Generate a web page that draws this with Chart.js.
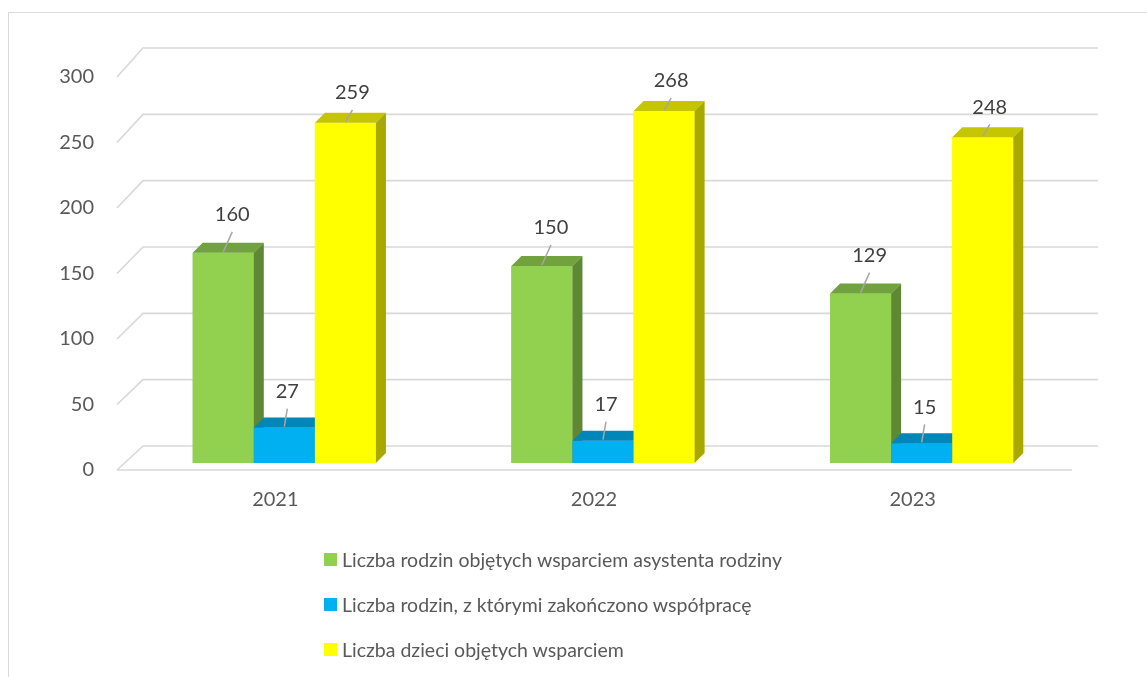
<!DOCTYPE html>
<html lang="pl">
<head>
<meta charset="utf-8">
<title>Asystent rodziny 2021-2023</title>
<script src="https://cdn.jsdelivr.net/npm/chart.js@4.4.0/dist/chart.umd.min.js"></script>
<style>
  html, body { margin: 0; padding: 0; background: #fff; overflow: hidden; }
  body { position: relative; width: 1147px; height: 677px; font-family: Lato, "Noto Sans", sans-serif; }
  .frame { position: absolute; left: 8px; top: 12px; width: 1400px; height: 900px; border: 1.5px solid #d9d9d9; }
  #chart { position: absolute; left: 0; top: 0; }
  .legend { position: absolute; left: 324px; top: 537px; margin: 0; padding: 0; list-style: none; }
  .legend li { display: flex; align-items: center; height: 45px; font-size: 19.5px; color: #595959; white-space: nowrap; }
  .legend .box { display: inline-block; width: 13px; height: 13px; margin-right: 5px; }
</style>
</head>
<body>
<div class="frame"></div>
<canvas id="chart" width="1147" height="677"></canvas>
<ul class="legend" id="legend"></ul>
<script>
  const categories = ["2021", "2022", "2023"];
  const seriesNames = [
    "Liczba rodzin objętych wsparciem asystenta rodziny",
    "Liczba rodzin, z którymi zakończono współpracę",
    "Liczba dzieci objętych wsparciem",
  ];
  const familiesSupported = [160, 150, 129];
  const familiesEnded = [27, 17, 15];
  const childrenSupported = [259, 268, 248];
  const yTicks = [0, 50, 100, 150, 200, 250, 300];

  const seriesStyle = [
    { front: "#92D050", top: "#72A23E", side: "#5F8834", labelDx: 9, labelLift: 38 },
    { front: "#00B0F0", top: "#0087B8", side: "#00719C", labelDx: 3, labelLift: 36 },
    { front: "#FFFF00", top: "#C6C600", side: "#A8A800", labelDx: 7, labelLift: 30 },
  ];
  const seriesValues = [familiesSupported, familiesEnded, childrenSupported];

  const BAR_DEPTH = 10;
  const GRID_COLOR = "#d9d9d9";
  const FONT = "20px Lato, 'Noto Sans', sans-serif";

  // legend below the plot
  const legendEl = document.getElementById("legend");
  seriesNames.forEach((name, i) => {
    const li = document.createElement("li");
    li.innerHTML = '<span class="box" style="background:' + seriesStyle[i].front + '"></span>';
    li.appendChild(document.createTextNode(name));
    legendEl.appendChild(li);
  });

  // back wall / floor front planes relative to the bar front plane
  const planeY = (area, y, plane) => {
    const frac = (area.bottom - y) / (area.bottom - area.top);
    if (plane === "back") return y - 17 - 4 * frac;
    return y + 7 + 1 * frac;
  };

  const drawBox = (ctx, bar, style) => {
    const d = BAR_DEPTH;
    const left = bar.x - bar.width / 2;
    const right = bar.x + bar.width / 2;
    const top = bar.y;
    const bottom = bar.base;

    ctx.fillStyle = style.front;
    ctx.fillRect(left, top, right - left, bottom - top);

    ctx.fillStyle = style.top;
    ctx.beginPath();
    ctx.moveTo(left, top);
    ctx.lineTo(right, top);
    ctx.lineTo(right + d, top - d);
    ctx.lineTo(left + d, top - d);
    ctx.closePath();
    ctx.fill();

    ctx.fillStyle = style.side;
    ctx.beginPath();
    ctx.moveTo(right, top);
    ctx.lineTo(right + d, top - d);
    ctx.lineTo(right + d, bottom - d);
    ctx.lineTo(right, bottom);
    ctx.closePath();
    ctx.fill();
  };

  const box3d = {
    id: "box3d",
    beforeDatasetsDraw(chart) {
      const { ctx, chartArea: area, scales } = chart;
      const yScale = scales.y;
      const xScale = scales.x;
      ctx.save();
      ctx.strokeStyle = GRID_COLOR;
      ctx.lineWidth = 1.7;
      ctx.font = FONT;
      yTicks.forEach((v) => {
        const y = yScale.getPixelForValue(v);
        const by = planeY(area, y, "back");
        const fy = planeY(area, y, "front");
        ctx.beginPath();
        ctx.moveTo(area.left - 8, fy);
        ctx.lineTo(area.left + 18, by);
        ctx.lineTo(area.right + 17, by);
        if (v === 0) {
          ctx.moveTo(area.left - 8, fy);
          ctx.lineTo(area.right - 9, fy);
        }
        ctx.stroke();

        ctx.fillStyle = "#595959";
        ctx.textAlign = "right";
        ctx.textBaseline = "middle";
        ctx.fillText(String(v), 94, fy);
      });

      ctx.fillStyle = "#595959";
      ctx.textAlign = "center";
      ctx.textBaseline = "middle";
      categories.forEach((label, i) => {
        ctx.fillText(label, xScale.getPixelForValue(i) - 9, 500);
      });
      ctx.restore();
    },
    afterDatasetsDraw(chart) {
      const { ctx } = chart;
      ctx.save();
      // Chart.js paints the last dataset first; repaint the boxes left to right
      chart.data.datasets.forEach((ds, di) => {
        chart.getDatasetMeta(di).data.forEach((bar) => drawBox(ctx, bar, seriesStyle[di]));
      });

      ctx.font = FONT;
      ctx.textAlign = "center";
      ctx.textBaseline = "middle";
      chart.data.datasets.forEach((ds, di) => {
        const style = seriesStyle[di];
        chart.getDatasetMeta(di).data.forEach((bar, i) => {
          const lx = bar.x + style.labelDx;
          const ly = bar.y - style.labelLift;
          ctx.strokeStyle = "#a6a6a6";
          ctx.lineWidth = 1.5;
          ctx.beginPath();
          ctx.moveTo(bar.x, bar.y - 1);
          ctx.lineTo(lx, ly + 17);
          ctx.stroke();
          ctx.fillStyle = "#404040";
          ctx.fillText(String(ds.data[i]), lx, ly);
        });
      });
      ctx.restore();
    },
  };

  new Chart(document.getElementById("chart"), {
    type: "bar",
    data: {
      labels: categories,
      datasets: seriesNames.map((name, i) => ({
        label: name,
        data: seriesValues[i],
        backgroundColor: seriesStyle[i].front,
        borderWidth: 0,
        categoryPercentage: 0.575,
        barPercentage: 1,
      })),
    },
    options: {
      responsive: false,
      animation: false,
      devicePixelRatio: 1,
      events: [],
      layout: {
        padding: { left: 125, right: 66, top: 69, bottom: 214 },
      },
      scales: {
        x: { display: false },
        y: { display: false, min: 0, max: 300, ticks: { stepSize: 50 } },
      },
      plugins: {
        legend: { display: false },
        tooltip: { enabled: false },
      },
    },
    plugins: [box3d],
  });
</script>
</body>
</html>
